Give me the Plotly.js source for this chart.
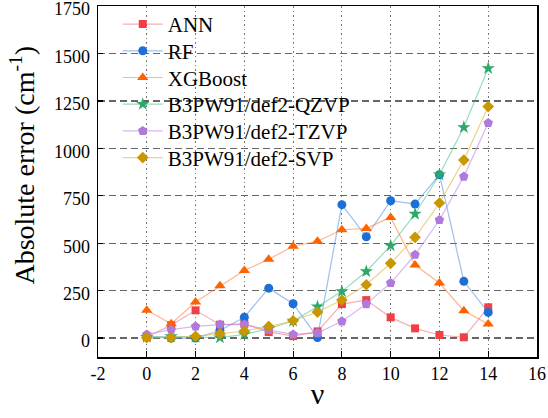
<!DOCTYPE html>
<html>
<head>
<meta charset="utf-8">
<script src="https://cdn.plot.ly/plotly-3.0.1.min.js"></script>
<style>html,body{margin:0;padding:0;background:#fff;}#chart{width:548px;height:418px;}</style>
</head>
<body>
<div id="chart"></div>
<script>
const nu = [0, 1, 2, 3, 4, 5, 6, 7, 8, 9, 10, 11, 12, 13, 14];
const seriesNames = ["ANN", "RF", "XGBoost", "B3PW91/def2-QZVP", "B3PW91/def2-TZVP", "B3PW91/def2-SVP"];
const annErr = [5, 68, 146, 70, 75, 32, 10, 35, 179, 200, 109, 51, 16, 4, 162];
const rfErr = [8, 0, 0, 40, 110, 263, 181, 3, 703, 534, 724, 706, 861, 299, 135];
const xgbErr = [146, 75, 190, 275, 356, 415, 484, 510, 571, 578, 636, 385, 290, 144, 74];
const qzvpErr = [5, 9, 5, 2, 19, 50, 90, 165, 246, 351, 487, 654, 861, 1111, 1422];
const tzvpErr = [19, 44, 61, 71, 72, 42, 19, 26, 88, 179, 290, 439, 622, 851, 1134];
const svpErr = [2, 2, 9, 23, 37, 61, 91, 137, 200, 281, 394, 531, 712, 938, 1220];
const xTicks = [-2, 0, 2, 4, 6, 8, 10, 12, 14, 16];
const yTicks = [0, 250, 500, 750, 1000, 1250, 1500, 1750];
const xTitle = "ν";
const yTitle = "Absolute error (cm<sup>-1</sup>)";

const styles = [
  {m: "#EF4048", l: "rgba(240,110,115,0.55)", s: "square", z: 8},
  {m: "#1B6FD6", l: "rgba(60,130,220,0.5)", s: "circle", z: 9},
  {m: "#FF6300", l: "rgba(255,120,50,0.55)", s: "triangle-up", z: 10},
  {m: "#2EA86A", l: "rgba(70,190,140,0.55)", s: "star", z: 10},
  {m: "#B07ADA", l: "rgba(180,130,225,0.55)", s: "pentagon", z: 10},
  {m: "#C99700", l: "rgba(225,180,60,0.6)", s: "diamond", z: 9}
];
const allY = [annErr, rfErr, xgbErr, qzvpErr, tzvpErr, svpErr];

const traces = allY.map((ys, i) => ({
  x: nu, y: ys, name: seriesNames[i], type: "scatter", mode: "lines+markers",
  line: {color: styles[i].l, width: 1.2},
  marker: {color: styles[i].m, symbol: styles[i].s, size: styles[i].z, line: {width: 0}},
  cliponaxis: false
}));

const fontFam = "Liberation Serif";
const layout = {
  width: 548, height: 418,
  margin: {l: 98, r: 11, t: 5, b: 61},
  paper_bgcolor: "#fff", plot_bgcolor: "#fff",
  font: {family: fontFam, color: "#000", size: 18},
  showlegend: true,
  legend: {x: 0.045, y: 1.003, xanchor: "left", yanchor: "top", bgcolor: "rgba(0,0,0,0)",
           font: {family: fontFam, size: 21, color: "#000"}, tracegroupgap: 0, itemwidth: 40},
  xaxis: {
    range: [-2, 16], tickvals: xTicks, ticktext: xTicks.map(String),
    ticks: "inside", ticklen: 6, tickwidth: 1.2, tickcolor: "#000",
    showline: true, mirror: true, linecolor: "#000", linewidth: 1.5,
    showgrid: true, gridcolor: "#777", gridwidth: 1, griddash: "1.5px,3px",
    zeroline: false, tickfont: {family: fontFam, size: 18, color: "#000"},
    title: {text: xTitle, font: {family: fontFam, size: 30, color: "#000"}, standoff: 0}
  },
  yaxis: {
    range: [-100, 1750.5], tickvals: yTicks, ticktext: yTicks.map(String),
    ticks: "inside", ticklen: 5, tickwidth: 1.2, tickcolor: "#000",
    showline: true, mirror: true, linecolor: "#000", linewidth: 1.5,
    showgrid: true, gridcolor: "#666", gridwidth: 1.2, griddash: "7px,4px",
    zeroline: false, tickfont: {family: fontFam, size: 18, color: "#000"},
    ticklabelstandoff: 3, ticklabelshift: 3, ticklabeloverflow: "allow"
  },
  annotations: [{
    text: yTitle, xref: "paper", yref: "paper", x: -0.171, y: 0.548,
    xanchor: "center", yanchor: "middle", textangle: -90, showarrow: false,
    font: {family: fontFam, size: 28, color: "#000"}
  }]
};

function parseT(el) {
  const t = (el && el.getAttribute && el.getAttribute("transform")) || "";
  const m = /translate\(\s*([-\d.e]+)[\s,]*([-\d.e]+)?\s*\)/.exec(t);
  return m ? [parseFloat(m[1]), parseFloat(m[2] || 0)] : [0, 0];
}

Plotly.newPlot("chart", traces, layout, {staticPlot: true, displayModeBar: false}).then(gd => {
  const items = Array.from(gd.querySelectorAll(".legend .traces"));
  if (!items.length) return;
  const info = items.map(el => {
    const [x, y] = parseT(el);
    const [, gy] = parseT(el.parentNode);
    return {el, x, y, gy};
  });
  const y0 = info[0].y + info[0].gy;
  const step = 26.7;
  info.forEach((o, i) => {
    o.el.setAttribute("transform", "translate(" + o.x + "," + (y0 + i * step - o.gy) + ")");
  });
});
</script>
</body>
</html>
